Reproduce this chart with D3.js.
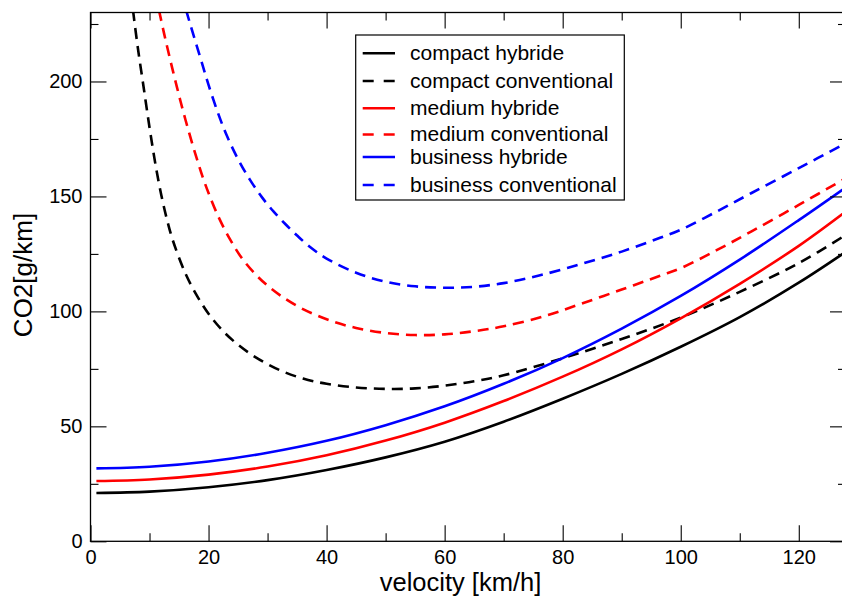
<!DOCTYPE html>
<html lang="en">
<head>
<meta charset="utf-8">
<title>CO2 vs velocity</title>
<script src="https://d3js.org/d3.v7.min.js"></script>
<style>
body { margin: 0; background: white; }
svg { display: block; font-family: "Liberation Sans", Arial, Helvetica, sans-serif; }
</style>
</head>
<body>
<div id="container"></div>
<script>
// hybrid curves share the same velocities
var vHybrid = [1, 10, 20, 30, 40, 50, 60, 70, 80, 90, 100, 110, 120, 128];
var compactHybrid = [21, 21.6, 23.5, 26.6, 31, 36.5, 43.3, 52, 62, 72.8, 84.6, 97.5, 112.5, 126];
var mediumHybrid = [26.2, 26.9, 29, 32.5, 37.4, 43.8, 51.6, 61, 71.6, 83.5, 97, 112, 128.5, 143.5];
var businessHybrid = [31.7, 32.4, 34.7, 38.5, 43.7, 50.5, 58.7, 68.5, 79.7, 92.5, 106.7, 122.5, 139.7, 154];

var vCompactConv = [7.2, 8, 9, 10, 11, 12, 13, 14, 16, 18, 20, 22.5, 25, 28, 32, 36, 40, 45, 50, 55, 60, 65, 70, 80, 90, 100, 110, 120, 128];
var compactConv = [231, 215, 197.5, 180, 164, 150.5, 139.5, 130.5, 117, 107, 99, 91.3, 85.5, 80, 74.5, 70.8, 68.5, 66.9, 66.3, 66.5, 67.7, 69.6, 72.2, 79.6, 88, 97.3, 108.5, 121, 133.3];
var vMediumConv = [11.6, 12.5, 13.5, 14.6, 15.7, 16.9, 18, 19, 20, 21.7, 23.5, 25.6, 28, 30, 32.4, 36, 40.6, 45, 50, 55, 60, 65, 70, 77, 83, 90, 96.5, 100, 106, 112, 120, 128];
var mediumConv = [231, 220.5, 209.5, 198, 187, 176, 166.5, 158.5, 151.5, 141, 132, 123.3, 116, 111.2, 106.5, 101, 96, 92.8, 90.6, 89.7, 90, 91.4, 93.5, 98, 103.2, 109.5, 115.5, 118.8, 126.5, 134.8, 146.3, 158];
var vBusinessConv = [16.2, 17, 18, 19, 20, 21.5, 23, 25, 27, 29, 31, 33, 35, 37.2, 40, 45, 50, 55, 60, 65, 70, 76, 83, 90, 96.5, 100, 106, 112, 120, 128];
var businessConv = [231, 224, 215.5, 207, 198.5, 187, 177, 166.2, 157.3, 149.8, 143.5, 138, 133, 128, 123, 116.8, 112.9, 110.9, 110.3, 110.7, 112.3, 115.6, 120.5, 126, 132, 135.5, 143.3, 151.5, 162.3, 173.2];

var seriesNames = ["compact hybride", "compact conventional", "medium hybride", "medium conventional", "business hybride", "business conventional"];
var seriesColors = ["#000000", "#000000", "#ff0000", "#ff0000", "#0000ff", "#0000ff"];
var seriesDashed = [false, true, false, true, false, true];

var xTicks = [0, 20, 40, 60, 80, 100, 120];
var xMinor = [10, 30, 50, 70, 90, 110];
var yTicks = [0, 50, 100, 150, 200];
var yMinor = [25, 75, 125, 175, 225];

// layout
var w = 842;
var h = 599;
var plotL = 90.5, plotT = 12.5, plotB = 541.3, plotR = 846;

var svg = d3.select("#container").append("svg")
    .attr("width", w)
    .attr("height", h)
    .style("background", "white");

var x = d3.scaleLinear().domain([0, 128]).range([plotL, plotR]);
var y = d3.scaleLinear().domain([0, 230]).range([plotB, plotT]);

function pairs(vs, vals) {
    return vs.map(function(v, i) { return [v, vals[i]]; });
}
var series = [
    pairs(vHybrid, compactHybrid),
    pairs(vCompactConv, compactConv),
    pairs(vHybrid, mediumHybrid),
    pairs(vMediumConv, mediumConv),
    pairs(vHybrid, businessHybrid),
    pairs(vBusinessConv, businessConv)
];

svg.append("clipPath").attr("id", "plotclip")
    .append("rect")
    .attr("x", plotL).attr("y", plotT)
    .attr("width", plotR - plotL).attr("height", plotB - plotT);

var line = d3.line()
    .x(function(d) { return x(d[0]); })
    .y(function(d) { return y(d[1]); })
    .curve(d3.curveCatmullRom.alpha(0.5));

// draw curves
svg.append("g").attr("clip-path", "url(#plotclip)")
    .selectAll("path")
    .data(series)
    .enter()
    .append("path")
    .attr("d", line)
    .attr("fill", "none")
    .attr("stroke", function(d, i) { return seriesColors[i]; })
    .attr("stroke-width", 2.6)
    .attr("stroke-dasharray", function(d, i) { return seriesDashed[i] ? "11,7" : null; });

// axes, ticks point inwards on all four sides
function styleAxis(g) {
    g.attr("font-size", null).attr("font-family", null);
    g.selectAll("line").attr("stroke", "#000").attr("stroke-width", 1.1);
    g.select(".domain").remove();
    g.selectAll("text").attr("fill", "#000").style("font-size", "20px");
}

svg.append("g").attr("transform", "translate(0," + plotB + ")")
    .call(d3.axisBottom(x).tickValues(xTicks).tickSize(-16).tickPadding(9).tickFormat(d3.format("d")))
    .call(styleAxis);
svg.append("g").attr("transform", "translate(0," + plotB + ")")
    .call(d3.axisBottom(x).tickValues(xMinor).tickSize(-8).tickFormat(""))
    .call(styleAxis);
svg.append("g").attr("transform", "translate(0," + plotT + ")")
    .call(d3.axisTop(x).tickValues(xTicks).tickSize(-16).tickFormat(""))
    .call(styleAxis);
svg.append("g").attr("transform", "translate(0," + plotT + ")")
    .call(d3.axisTop(x).tickValues(xMinor).tickSize(-8).tickFormat(""))
    .call(styleAxis);

svg.append("g").attr("transform", "translate(" + plotL + ",0)")
    .call(d3.axisLeft(y).tickValues(yTicks).tickSize(-16).tickPadding(8).tickFormat(d3.format("d")))
    .call(styleAxis);
svg.append("g").attr("transform", "translate(" + plotL + ",0)")
    .call(d3.axisLeft(y).tickValues(yMinor).tickSize(-8).tickFormat(""))
    .call(styleAxis);
svg.append("g").attr("transform", "translate(" + plotR + ",0)")
    .call(d3.axisRight(y).tickValues(yTicks).tickSize(-16).tickFormat(""))
    .call(styleAxis);
svg.append("g").attr("transform", "translate(" + plotR + ",0)")
    .call(d3.axisRight(y).tickValues(yMinor).tickSize(-8).tickFormat(""))
    .call(styleAxis);

// frame
svg.append("rect")
    .attr("x", plotL).attr("y", plotT)
    .attr("width", plotR - plotL).attr("height", plotB - plotT)
    .attr("fill", "none")
    .attr("stroke", "#000")
    .attr("stroke-width", 1.3);

// axis titles
svg.append("text")
    .attr("x", 460.5)
    .attr("y", 591)
    .attr("text-anchor", "middle")
    .style("font-size", "25.5px")
    .text("velocity [km/h]");

svg.append("text")
    .attr("transform", "translate(32,275) rotate(-90)")
    .attr("text-anchor", "middle")
    .style("font-size", "26px")
    .text("CO2[g/km]");

// legend
var legendRows = [53.3, 81, 108.3, 134.5, 157, 185];
var legend = svg.append("g");
legend.append("rect")
    .attr("x", 355.7).attr("y", 35)
    .attr("width", 268.6).attr("height", 165)
    .attr("fill", "white")
    .attr("stroke", "#000")
    .attr("stroke-width", 1.2);

legend.selectAll("line.key")
    .data(seriesNames)
    .enter()
    .append("line")
    .attr("class", "key")
    .attr("x1", 362.7).attr("x2", 395)
    .attr("y1", function(d, i) { return legendRows[i]; })
    .attr("y2", function(d, i) { return legendRows[i]; })
    .attr("stroke", function(d, i) { return seriesColors[i]; })
    .attr("stroke-width", 2.6)
    .attr("stroke-dasharray", function(d, i) { return seriesDashed[i] ? "11,10" : null; });

legend.selectAll("text")
    .data(seriesNames)
    .enter()
    .append("text")
    .attr("x", 410)
    .attr("y", function(d, i) { return legendRows[i] + 6.5; })
    .style("font-size", "21px")
    .text(function(d) { return d; });
</script>
</body>
</html>
